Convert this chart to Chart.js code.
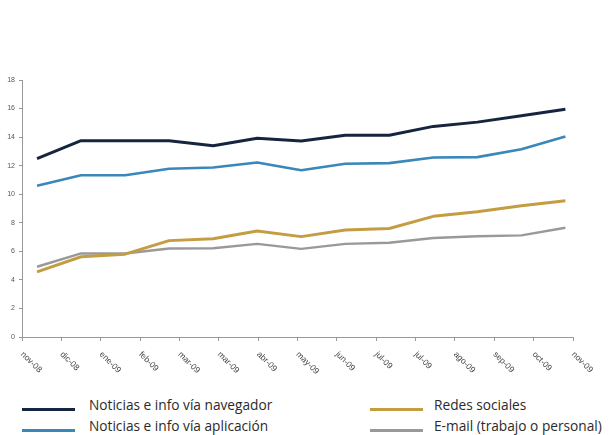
<!DOCTYPE html>
<html>
<head>
    <title>Consumo de noticias e info</title>
    <script src="https://cdn.jsdelivr.net/npm/chart.js"></script>
    <style>
        body {
            margin: 0;
            background: #fff;
        }
        .wrap {
            position: relative;
            width: 610px;
            height: 435px;
        }
        #chartBox {
            position: absolute;
            left: 0;
            top: 0;
            width: 610px;
            height: 390px;
        }
        .legend-item {
            position: absolute;
            font-family: "Open Sans", "Noto Sans", sans-serif;
            font-size: 13.7px;
            color: #2a2a2a;
            white-space: nowrap;
        }
        .legend-line {
            position: absolute;
            height: 3px;
        }
    </style>
</head>
<body>
    <div class="wrap" id="wrap">
        <div id="chartBox"><canvas id="mediaChart"></canvas></div>
    </div>
    <script>
        // month index of each reading (nov-08 = 0 ... nov-09 = 12)
        const months = [0, 1, 2, 3, 4, 5, 6, 7, 8, 9, 10, 11, 12];

        const navegador = [12.5, 13.75, 13.75, 13.75, 13.4, 13.92, 13.73, 14.13, 14.13, 14.75, 15.05, 15.5, 15.95];
        const aplicacion = [10.6, 11.33, 11.33, 11.78, 11.87, 12.22, 11.68, 12.13, 12.18, 12.57, 12.6, 13.15, 14.05];
        const redes = [4.56, 5.62, 5.8, 6.75, 6.88, 7.42, 7.03, 7.49, 7.6, 8.45, 8.78, 9.2, 9.55];
        const email = [4.92, 5.85, 5.85, 6.2, 6.22, 6.52, 6.17, 6.52, 6.6, 6.93, 7.06, 7.12, 7.65];

        const tickLabels = ['nov-08', 'dic-08', 'ene-09', 'feb-09', 'mar-09', 'mar-09', 'abr-09', 'may-09',
            'jun-09', 'jul-09', 'jul-09', 'ago-09', 'sep-09', 'oct-09', 'nov-09'];

        const yTicks = [0, 2, 4, 6, 8, 10, 12, 14, 16, 18];

        // x range of the date axis, in months
        const X_MIN = -0.341;
        const X_MAX = 12.173;

        const toPoints = values => values.map((v, i) => ({ x: months[i], y: v }));

        const datasets = [
            { label: 'Noticias e info vía navegador', data: toPoints(navegador), borderColor: '#16253f', borderWidth: 3 },
            { label: 'Noticias e info vía aplicación', data: toPoints(aplicacion), borderColor: '#3a87ba', borderWidth: 2.6 },
            { label: 'Redes sociales', data: toPoints(redes), borderColor: '#c49d42', borderWidth: 3 },
            { label: 'E-mail (trabajo o personal)', data: toPoints(email), borderColor: '#999999', borderWidth: 2.4 }
        ];

        // rotated month labels under the x axis
        const slantedLabels = {
            id: 'slantedLabels',
            afterDraw(chart) {
                const scale = chart.scales.x;
                const ctx = chart.ctx;
                ctx.save();
                ctx.font = '8.5px "Liberation Sans", Arial, sans-serif';
                ctx.fillStyle = '#444';
                ctx.textAlign = 'left';
                ctx.textBaseline = 'middle';
                scale.ticks.forEach((t, k) => {
                    const px = scale.getPixelForValue(t.value);
                    ctx.save();
                    ctx.translate(px, scale.top + 16);
                    ctx.rotate(Math.PI / 4);
                    ctx.fillText(tickLabels[k], 0, 0);
                    ctx.restore();
                });
                ctx.restore();
            }
        };

        const ctx = document.getElementById('mediaChart').getContext('2d');
        const mediaChart = new Chart(ctx, {
            type: 'line',
            data: {
                datasets: datasets.map(d => Object.assign({
                    fill: false,
                    pointRadius: 0,
                    tension: 0,
                    borderJoinStyle: 'round'
                }, d))
            },
            options: {
                responsive: true,
                maintainAspectRatio: false,
                animation: false,
                layout: { padding: { top: 80, right: 37, left: 0, bottom: 0 } },
                plugins: {
                    legend: { display: false },
                    tooltip: { enabled: false }
                },
                scales: {
                    x: {
                        type: 'linear',
                        min: X_MIN,
                        max: X_MAX,
                        afterBuildTicks: scale => {
                            const step = (X_MAX - X_MIN) / (tickLabels.length - 1);
                            scale.ticks = tickLabels.map((_, k) => ({ value: X_MIN + k * step }));
                        },
                        afterFit: scale => { scale.height = 53; },
                        ticks: { display: false },
                        grid: {
                            drawOnChartArea: false,
                            drawTicks: true,
                            tickLength: 4,
                            color: '#999'
                        },
                        border: { display: true, color: '#999', width: 1 }
                    },
                    y: {
                        min: 0,
                        max: 18,
                        afterBuildTicks: scale => {
                            scale.ticks = yTicks.map(v => ({ value: v }));
                        },
                        afterFit: scale => { scale.width = 22; },
                        ticks: {
                            padding: 4,
                            color: '#555',
                            font: { family: '"Liberation Sans", Arial, sans-serif', size: 7 }
                        },
                        grid: {
                            drawOnChartArea: false,
                            drawTicks: true,
                            tickLength: 3,
                            color: '#999'
                        },
                        border: { display: true, color: '#999', width: 1 }
                    }
                }
            },
            plugins: [slantedLabels]
        });

        // legend below the chart, two columns
        const legendSpots = [
            { lineX: 22, textX: 89, row: 0 },
            { lineX: 22, textX: 89, row: 1 },
            { lineX: 370, textX: 434, row: 0 },
            { lineX: 370, textX: 434, row: 1 }
        ];
        const wrap = document.getElementById('wrap');
        mediaChart.data.datasets.forEach((ds, i) => {
            const spot = legendSpots[i];
            const line = document.createElement('div');
            line.className = 'legend-line';
            line.style.left = spot.lineX + 'px';
            line.style.top = (408 + spot.row * 21) + 'px';
            line.style.width = '53px';
            line.style.background = ds.borderColor;
            wrap.appendChild(line);

            const text = document.createElement('div');
            text.className = 'legend-item';
            text.style.left = spot.textX + 'px';
            text.style.top = (395 + spot.row * 21) + 'px';
            text.textContent = ds.label;
            wrap.appendChild(text);
        });
    </script>
</body>
</html>
